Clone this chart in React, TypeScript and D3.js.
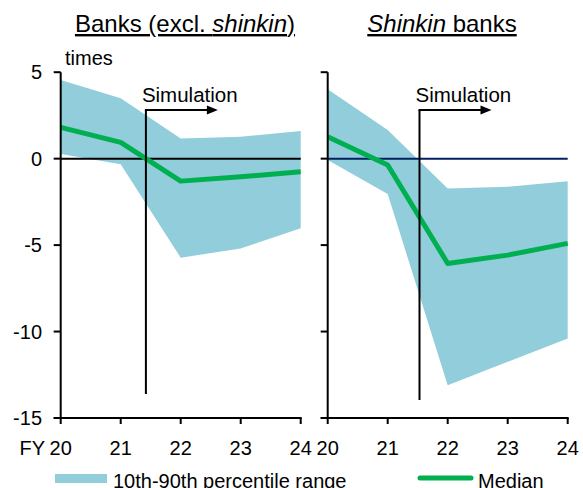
import React from "react";
import * as d3 from "d3";

const years = [20, 21, 22, 23, 24];
const yTicks = [5, 0, -5, -10, -15];

const banksMedian = [1.81, 0.94, -1.3, -1.05, -0.76];
const banksUpper = [4.55, 3.49, 1.17, 1.27, 1.6];
const banksLower = [0.27, -0.33, -5.73, -5.19, -4.03];

const shinkinMedian = [1.27, -0.37, -6.06, -5.58, -4.9];
const shinkinUpper = [4.01, 1.65, -1.72, -1.63, -1.3];
const shinkinLower = [-0.08, -2.05, -13.1, -11.75, -10.4];

const BAND = "#92CDDC";
const GREEN = "#00B050";
const FONT = "'Liberation Sans', Arial, sans-serif";

const y = d3.scaleLinear().domain([-15, 5]).range([418, 72.2]);

type PanelProps = {
  x0: number;
  median: number[];
  upper: number[];
  lower: number[];
  simX: number;
  simBottom: number;
  zeroColor: string;
  showYLabels: boolean;
};

function Panel({ x0, median, upper, lower, simX, simBottom, zeroColor, showYLabels }: PanelProps) {
  const x = d3.scaleLinear().domain([20, 24]).range([x0, x0 + 240]);
  const rows = years.map((yr, i) => ({ yr, m: median[i], u: upper[i], l: lower[i] }));
  const area = d3
    .area<any>()
    .x((d) => x(d.yr))
    .y0((d) => y(d.l))
    .y1((d) => y(d.u));
  const line = d3
    .line<any>()
    .x((d) => x(d.yr))
    .y((d) => y(d.m));
  const sx = x(simX);
  const arrowY = 110;
  const arrowEnd = sx + 72;
  return (
    <g>
      <path d={area(rows) || ""} fill={BAND} />
      <line x1={x0} x2={x(24)} y1={y(0)} y2={y(0)} stroke={zeroColor} strokeWidth={2} />
      <path d={line(rows) || ""} fill="none" stroke={GREEN} strokeWidth={5} strokeLinejoin="round" />
      <line x1={sx} x2={sx} y1={arrowY} y2={simBottom} stroke="#000" strokeWidth={2} />
      <line x1={sx - 1} x2={arrowEnd - 9} y1={arrowY} y2={arrowY} stroke="#000" strokeWidth={2} />
      <path d={`M${arrowEnd},${arrowY} L${arrowEnd - 11},${arrowY - 4.5} L${arrowEnd - 11},${arrowY + 4.5} Z`} fill="#000" />
      <text x={sx - 4} y={102} fontSize={20.5} fontFamily={FONT} fill="#000">
        Simulation
      </text>
      <line x1={x0} x2={x0} y1={y(5)} y2={y(-15)} stroke="#000" strokeWidth={2} />
      {yTicks.map((t) => (
        <g key={t}>
          <line x1={x0 - 7} x2={x0} y1={y(t)} y2={y(t)} stroke="#000" strokeWidth={2} />
          {showYLabels && (
            <text x={42} y={y(t)} dy="0.35em" textAnchor="end" fontSize={20} fontFamily={FONT} fill="#000">
              {t}
            </text>
          )}
        </g>
      ))}
      <line x1={x0 - 7} x2={x(24) + 1} y1={y(-15)} y2={y(-15)} stroke="#000" strokeWidth={2} />
      {years.map((yr) => (
        <g key={yr}>
          <line x1={x(yr)} x2={x(yr)} y1={y(-15)} y2={y(-15) + 6} stroke="#000" strokeWidth={2} />
          <text x={x(yr)} y={455} textAnchor="middle" fontSize={20} fontFamily={FONT} fill="#000">
            {yr}
          </text>
        </g>
      ))}
    </g>
  );
}

export default function App() {
  return (
    <svg width={583} height={488} style={{ display: "block", position: "absolute", left: 0, top: 0 }}>
      <rect width={583} height={488} fill="#fff" />
      <text x={185} y={32} textAnchor="middle" fontSize={24} fontFamily={FONT} fill="#000" textDecoration="underline">
        Banks (excl. <tspan fontStyle="italic">shinkin</tspan>)
      </text>
      <text x={442} y={32} textAnchor="middle" fontSize={24} fontFamily={FONT} fill="#000" textDecoration="underline">
        <tspan fontStyle="italic">Shinkin</tspan> banks
      </text>
      <text x={65} y={65} fontSize={20} fontFamily={FONT} fill="#000">
        times
      </text>
      <text x={45} y={455} textAnchor="end" fontSize={20} fontFamily={FONT} fill="#000">
        FY
      </text>
      <Panel
        x0={60.7}
        median={banksMedian}
        upper={banksUpper}
        lower={banksLower}
        simX={21.42}
        simBottom={394}
        zeroColor="#000"
        showYLabels={true}
      />
      <Panel
        x0={327.7}
        median={shinkinMedian}
        upper={shinkinUpper}
        lower={shinkinLower}
        simX={21.53}
        simBottom={400}
        zeroColor="#002060"
        showYLabels={false}
      />
      <rect x={55} y={474} width={52} height={9} fill={BAND} />
      <text x={113} y={488} fontSize={20} fontFamily={FONT} fill="#000">
        10th-90th percentile range
      </text>
      <line x1={420} x2={471} y1={478} y2={478} stroke={GREEN} strokeWidth={5} strokeLinecap="round" />
      <text x={478} y={488} fontSize={20} fontFamily={FONT} fill="#000">
        Median
      </text>
    </svg>
  );
}
